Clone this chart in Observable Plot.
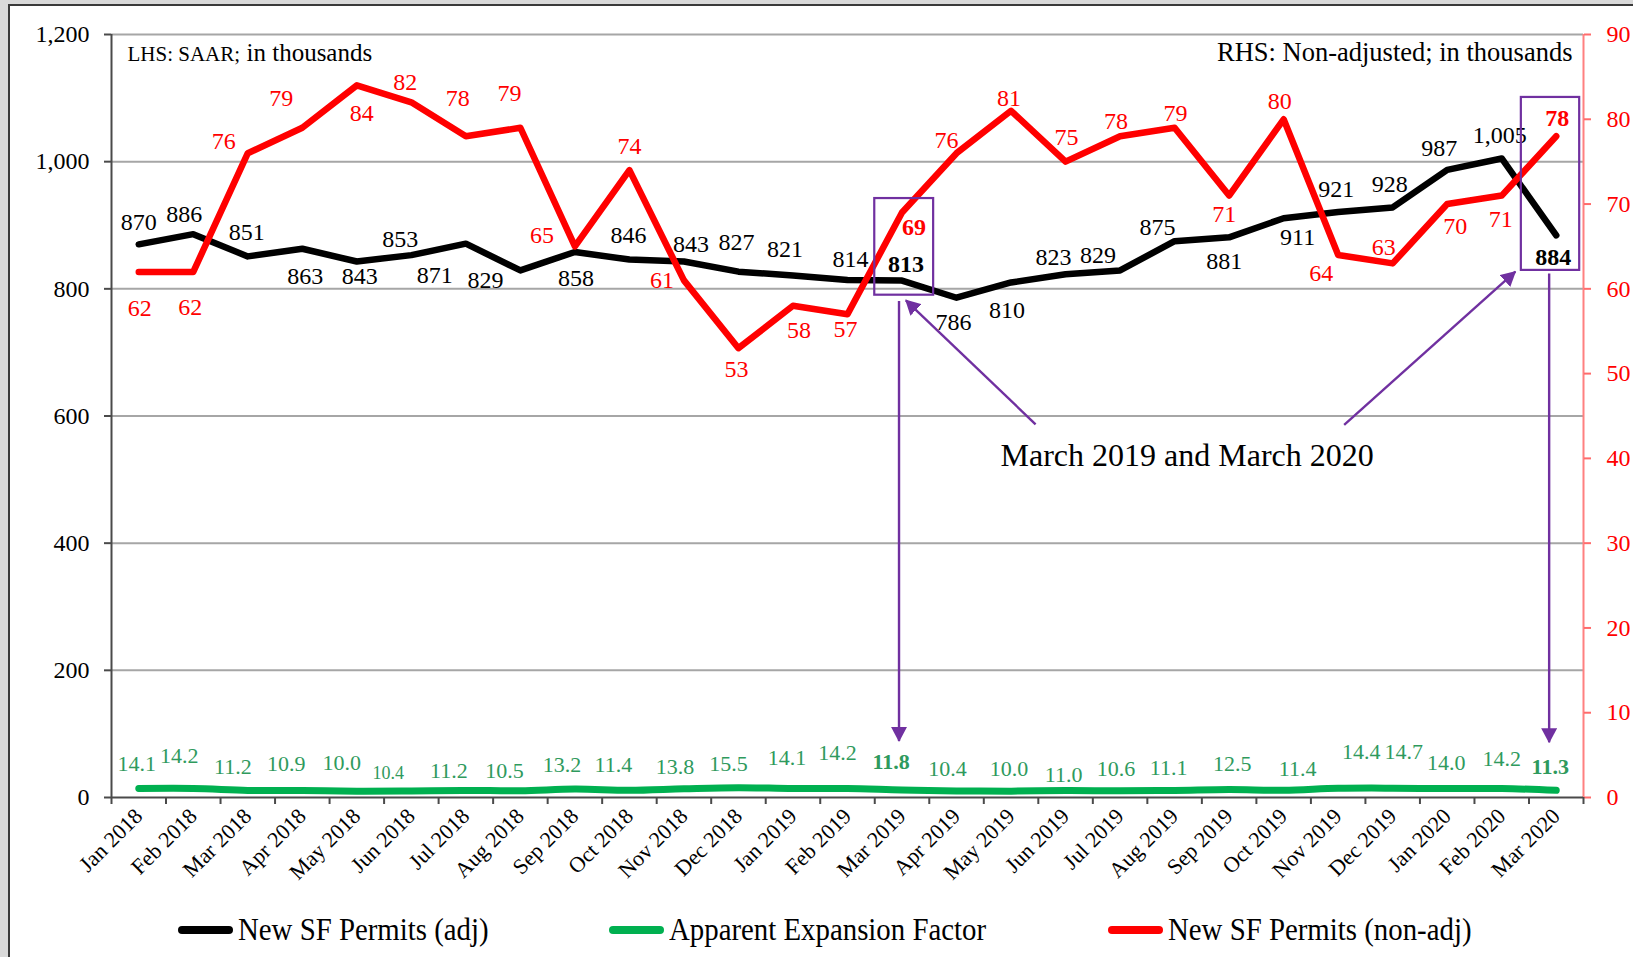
<!DOCTYPE html>
<html><head><meta charset="utf-8">
<script src="https://cdn.jsdelivr.net/npm/d3@7"></script>
<script src="https://cdn.jsdelivr.net/npm/@observablehq/plot@0.6"></script>
<style>
html,body{margin:0;padding:0;}
body{width:1633px;height:957px;background:#d9d9d9;overflow:hidden;font-family:"Liberation Serif","Times New Roman",serif;}
#wrap{position:relative;width:1633px;height:957px;}
#frame{position:absolute;left:8px;top:4px;right:0;bottom:0;background:#fff;border-left:2px solid #3a3a3a;border-top:2px solid #3a3a3a;}
#chart{position:absolute;left:0;top:0;}
.leg{position:absolute;top:910px;height:40px;display:flex;align-items:center;}
.sw{width:55px;height:8px;border-radius:4px;margin-right:5px;flex:none;}
.lt{font-size:31px;color:#000;transform:scaleX(0.93);transform-origin:left center;white-space:nowrap;}
</style></head>
<body><div id="wrap"><div id="frame"></div><div id="chart"></div><div id="legend"></div></div>
<script>
// ---- data ----
const months = ["Jan 2018","Feb 2018","Mar 2018","Apr 2018","May 2018","Jun 2018","Jul 2018","Aug 2018","Sep 2018","Oct 2018","Nov 2018","Dec 2018",
  "Jan 2019","Feb 2019","Mar 2019","Apr 2019","May 2019","Jun 2019","Jul 2019","Aug 2019","Sep 2019","Oct 2019","Nov 2019","Dec 2019",
  "Jan 2020","Feb 2020","Mar 2020"];
const adj = [870,886,851,863,843,853,871,829,858,846,843,827,821,814,813,786,810,823,829,875,881,911,921,928,987,1005,884];
const nonAdj = [62,62,76,79,84,82,78,79,65,74,61,53,58,57,69,76,81,75,78,79,71,80,64,63,70,71,78];
const aef = [14.1,14.2,11.2,10.9,10.0,10.4,11.2,10.5,13.2,11.4,13.8,15.5,14.1,14.2,11.8,10.4,10.0,11.0,10.6,11.1,12.5,11.4,14.4,14.7,14.0,14.2,11.3];
const leftTicks = [0,200,400,600,800,1000,1200];
const rightTicks = [0,10,20,30,40,50,60,70,80,90];
const seriesNames = ["New SF Permits (adj)","Apparent Expansion Factor","New SF Permits (non-adj)"];
const seriesColors = ["#000000","#00b050","#ff0000"];
const headerLeft = ["LHS: SAAR;","in thousands"];
const headerRight = ["RHS: Non-adjusted; in thousands"];
const noteText = ["March 2019 and March 2020"];
const highlighted = [14, 26]; // March 2019 and March 2020

// label placement (pixel offsets from each point)
const blackDx = [0,-9,-1,3,3,-11,-31,-35,1,-1,7,-2,-8,3,4,-3,-4,-12,-22,-17,-5,14,-2,-3,-8,-2,-3];
const blackDy = [-22,-20,-24,28,15,-16,32,10,26,-24,-17,-29,-26,-21,-16,25,28,-17,-15,-14,24,19,-23,-23,-22,-23,22];
const redDx = [1,-3,-24,-21,5,-6,-8,-11,-33,0,-22,-2,6,-2,12,-10,-2,1,-4,1,-5,-4,-17,-9,8,-1,1];
const redDy = [36,35,-12,-29,28,-20,-38,-34,-11,-24,0,21,25,15,15,-13,-12,-24,-15,-14,19,-18,18,-16,22,24,-18];
const greenDx = [-2,-14,-15,-16,-15,-23,-17,-16,-13,-16,-9,-10,-6,-10,-11,-9,-2,-2,-4,-6,3,14,23,11,-1,0,-6];
const greenDy = [-25,-33,-23,-27,-28,-18,-19,-20,-24,-25,-22,-24,-31,-36,-28,-22,-22,-16,-22,-22,-26,-21,-36,-36,-26,-30,-23];

// annotations in data units (month index, left-axis value)
const boxes = [{x1:13.5,x2:14.58,y1:790,y2:942},{x1:25.36,x2:26.43,y1:829,y2:1101}];
const arrows = [
  {x1:13.945,y1:781,x2:13.945,y2:89},
  {x1:25.87,y1:824,x2:25.87,y2:87},
  {x1:16.45,y1:587,x2:14.07,y2:782},
  {x1:22.11,y1:586,x2:25.25,y2:827}
];
const notePos = [{x:19.23,y:537}];

// ---- build ----
const R = 1200/90;
const rows = months.map((m,i)=>({i, m, adj:adj[i], nonAdj:nonAdj[i], aef:aef[i]}));
const purple = "#7030a0";
const fmtC = d3.format(",");
const fmt1 = d3.format(".1f");

const labelMarks = [];
rows.forEach((d,i)=>{
  const b = highlighted.includes(i) ? "bold" : "normal";
  labelMarks.push(Plot.text([d],{x:"i",y:"adj",text:r=>fmtC(r.adj),dx:blackDx[i],dy:blackDy[i],fill:"#000",fontSize:24,fontWeight:b}));
  labelMarks.push(Plot.text([d],{x:"i",y:r=>r.nonAdj*R,text:r=>String(r.nonAdj),dx:redDx[i],dy:redDy[i],fill:"#ff0000",fontSize:24,fontWeight:b}));
  labelMarks.push(Plot.text([d],{x:"i",y:"aef",text:r=>fmt1(r.aef),dx:greenDx[i],dy:greenDy[i],fill:"#2f9a5d",fontSize:i===5?18:22,fontWeight:b}));
});

const plot = Plot.plot({
  width:1633, height:900,
  marginLeft:111, marginRight:50, marginTop:34, marginBottom:103,
  style:{background:"transparent", fontFamily:"'Liberation Serif','Times New Roman',serif", overflow:"visible"},
  x:{type:"linear", domain:[-0.5,26.5], label:null},
  y:{domain:[0,1200], label:null},
  marks:[
    Plot.ruleY(leftTicks.filter(v=>v>0),{stroke:"#a6a6a6",strokeWidth:2}),
    Plot.ruleX([26.5],{y1:0,y2:1200,stroke:"#ff8080",strokeWidth:2}),
    Plot.ruleX([-0.5],{y1:0,y2:1200,stroke:"#4a4a4a",strokeWidth:2}),
    Plot.axisY({ticks:leftTicks,tickFormat:fmtC,tickSize:7,tickPadding:15,fontSize:24,stroke:"#4a4a4a",fill:"#000",strokeWidth:2,label:null}),
    Plot.axisY({anchor:"right",ticks:rightTicks.map(v=>v*R),tickFormat:v=>String(Math.round(v/R)),tickSize:7,tickPadding:16,fontSize:24,stroke:"#ff6b6b",fill:"#ff0000",strokeWidth:2,label:null}),
    Plot.axisX({ticks:d3.range(28).map(k=>k-0.5),tickFormat:()=>"",tickSize:7,stroke:"#4a4a4a",strokeWidth:2,label:null}),
    Plot.axisX({ticks:d3.range(27),tickFormat:i=>months[i],tickSize:0,tickPadding:15,tickRotate:-45,fontSize:22,fill:"#000",label:null}),
    Plot.ruleY([0],{stroke:"#4a4a4a",strokeWidth:2}),
    Plot.line(rows,{x:"i",y:"aef",stroke:seriesColors[1],strokeWidth:7,curve:"catmull-rom",strokeLinecap:"round"}),
    Plot.line(rows,{x:"i",y:"adj",stroke:seriesColors[0],strokeWidth:6.5,strokeLinecap:"round",strokeLinejoin:"round"}),
    Plot.line(rows,{x:"i",y:r=>r.nonAdj*R,stroke:seriesColors[2],strokeWidth:6.5,strokeLinecap:"round",strokeLinejoin:"round"}),
    ...labelMarks,
    Plot.text([headerLeft[0]],{text:d=>d,frameAnchor:"top-left",dx:16,dy:26,lineAnchor:"bottom",textAnchor:"start",fontSize:21,fill:"#000"}),
    Plot.text([headerLeft[1]],{text:d=>d,frameAnchor:"top-left",dx:135,dy:26,lineAnchor:"bottom",textAnchor:"start",fontSize:25,fill:"#000"}),
    Plot.text(headerRight,{text:d=>d,frameAnchor:"top-right",dx:-11,dy:26,lineAnchor:"bottom",textAnchor:"end",fontSize:26.5,fill:"#000"}),
    Plot.rect(boxes,{x1:"x1",x2:"x2",y1:"y1",y2:"y2",fill:"none",stroke:purple,strokeWidth:2.2}),
    Plot.link(arrows,{x1:"x1",y1:"y1",x2:"x2",y2:"y2",stroke:purple,strokeWidth:2.4}),
    Plot.text(notePos,{x:"x",y:"y",text:()=>noteText[0],fontSize:32,fill:"#000"})
  ]
});

// filled arrowheads for the annotation links
const ns = "http://www.w3.org/2000/svg";
const defs = document.createElementNS(ns,"defs");
const mk = document.createElementNS(ns,"marker");
mk.setAttribute("id","ahead");
mk.setAttribute("viewBox","0 0 15 16");
mk.setAttribute("refX","14");
mk.setAttribute("refY","8");
mk.setAttribute("markerWidth","15");
mk.setAttribute("markerHeight","16");
mk.setAttribute("markerUnits","userSpaceOnUse");
mk.setAttribute("orient","auto");
const mp = document.createElementNS(ns,"path");
mp.setAttribute("d","M0,0L15,8L0,16Z");
mp.setAttribute("fill",purple);
mk.appendChild(mp); defs.appendChild(mk); plot.insertBefore(defs, plot.firstChild);
plot.querySelectorAll('g[aria-label="link"] path').forEach(p=>p.setAttribute("marker-end","url(#ahead)"));

document.getElementById("chart").appendChild(plot);

// legend
const legendLeft = [178, 609, 1108];
const legend = document.getElementById("legend");
seriesNames.forEach((n,k)=>{
  const item = document.createElement("div");
  item.className = "leg";
  item.style.left = legendLeft[k] + "px";
  const sw = document.createElement("div");
  sw.className = "sw"; sw.style.background = seriesColors[k];
  const t = document.createElement("span");
  t.className = "lt"; t.textContent = n;
  item.appendChild(sw); item.appendChild(t);
  legend.appendChild(item);
});
</script>
</body></html>
